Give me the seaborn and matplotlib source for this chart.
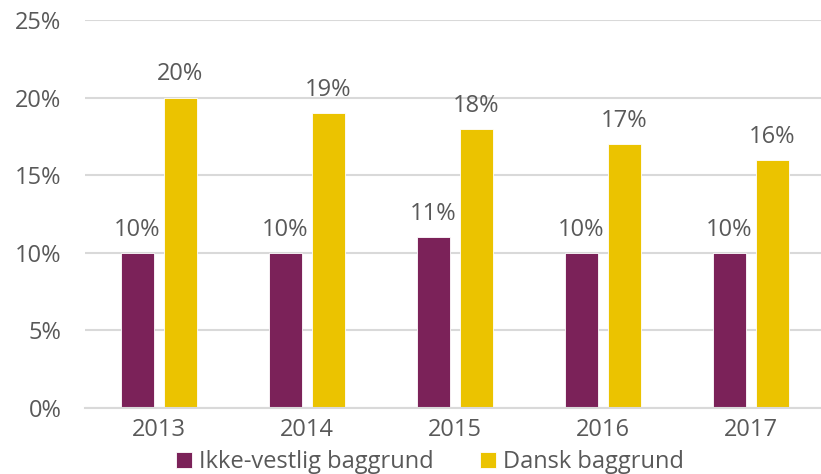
import matplotlib
matplotlib.use("Agg")
import matplotlib.pyplot as plt
import seaborn as sns
import pandas as pd

years = ["2013", "2014", "2015", "2016", "2017"]
ikke_vestlig = [0.10, 0.10, 0.11, 0.10, 0.10]
dansk = [0.20, 0.19, 0.18, 0.17, 0.16]
series_names = ["Ikke-vestlig baggrund", "Dansk baggrund"]
colors = ["#7B2259", "#EBC300"]
yticks = [0, 0.05, 0.10, 0.15, 0.20, 0.25]

df = pd.DataFrame({
    "year": years * 2,
    "value": ikke_vestlig + dansk,
    "series": [series_names[0]] * len(years) + [series_names[1]] * len(years),
})

sns.set_theme(style="white")
plt.rcParams["font.family"] = ["Open Sans", "DejaVu Sans"]
text_color = "#595959"
fs = 17

fig = plt.figure(figsize=(8.21, 4.74), dpi=100)
ax = fig.add_axes([85 / 821, 66 / 474, (821 - 85) / 821, 388 / 474])

sns.barplot(data=df, x="year", y="value", hue="series", palette=colors,
            width=0.58, gap=0.23, ax=ax, edgecolor="white", linewidth=0.6,
            saturation=1)

for cont in ax.containers:
    ax.bar_label(cont, labels=[f"{v*100:.0f}%" for v in cont.datavalues],
                 padding=8, fontsize=fs, color=text_color)

ax.set_ylim(0, 0.25)
ax.set_xlim(-0.5, -0.5 + (821 - 85) / 148)
ax.set_yticks(yticks)
ax.set_yticklabels([f"{t*100:.0f}%" for t in yticks])
ax.yaxis.grid(True, color="#d9d9d9", linewidth=1.5)
ax.set_axisbelow(True)
for s in ["top", "right", "left"]:
    ax.spines[s].set_visible(False)
ax.spines["bottom"].set_color("#d9d9d9")
ax.spines["bottom"].set_linewidth(1.5)
ax.tick_params(axis="both", length=0, labelsize=fs, labelcolor=text_color)
ax.tick_params(axis="y", pad=17)
ax.tick_params(axis="x", pad=7)
ax.set_xlabel("")
ax.set_ylabel("")

ax.legend(loc="center", bbox_to_anchor=(430 / 821, 12 / 474),
          bbox_transform=fig.transFigure, ncol=2, frameon=False,
          fontsize=fs, labelcolor=text_color, handlelength=0.65,
          handleheight=0.65, handletextpad=0.3, columnspacing=2.0,
          borderpad=0)

fig.savefig("out.png", dpi=100)
